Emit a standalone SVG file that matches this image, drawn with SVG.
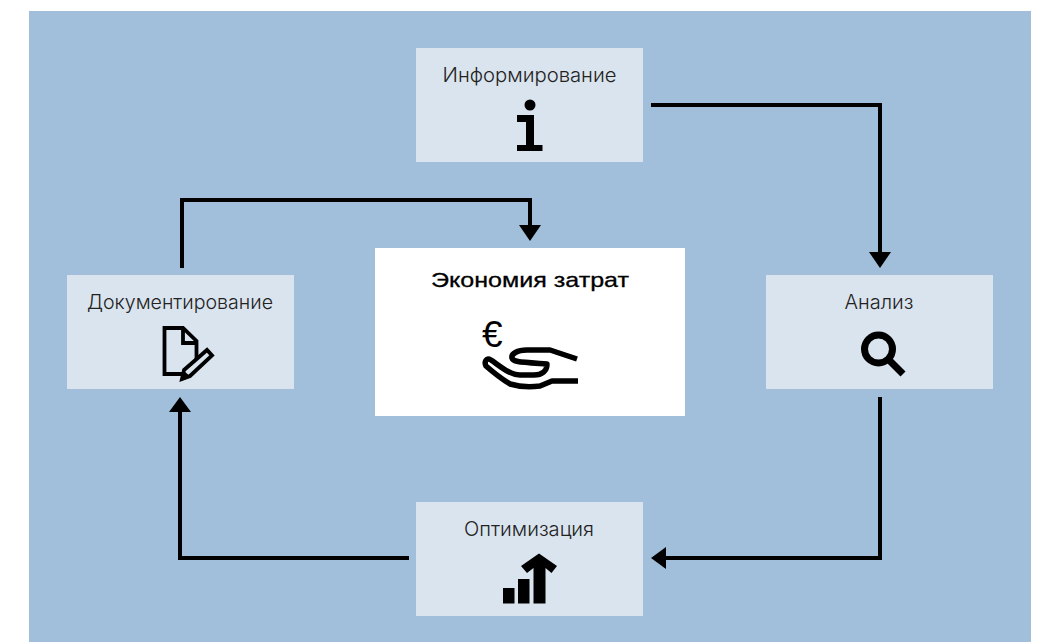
<svg xmlns="http://www.w3.org/2000/svg" width="1045" height="642" viewBox="0 0 1045 642">
<style>
.box{fill:#dae4ee}
.t{font-family:"Inter","Liberation Sans",Arial,sans-serif;font-weight:300;font-size:19.500px;fill:#222;text-anchor:middle}
.c{fill:none;stroke:#000;stroke-width:4}
.a{fill:#000}
.i{fill:none;stroke:#000;stroke-width:3.800}
</style>
<rect width="1045" height="642" fill="#fff"/>
<rect x="29" y="11" width="1002" height="631" fill="#a1bfda"/>
<g id="connectors">
<path class="c" d="M651 105H880V252"/><polygon class="a" points="869,252 891,252 880,268"/>
<path class="c" d="M880 397V558H666"/><polygon class="a" points="666,547 666,569 651,558"/>
<path class="c" d="M409 558H180V412"/><polygon class="a" points="169,412 191,412 180,397"/>
<path class="c" d="M182 268V200H530V225"/><polygon class="a" points="519,225 541,225 530,241"/>
</g>
<g id="informirovanie">
<rect class="box" x="416" y="48" width="227" height="114"/>
<text class="t" x="529.500" y="82" textLength="174" lengthAdjust="spacingAndGlyphs">Информирование</text>
<circle cx="530" cy="105" r="5.500"/>
<path d="M517 115H534V145H542.500V151H517V145H526V122H517Z"/>
</g>
<g id="analiz">
<rect class="box" x="766" y="275" width="227" height="114"/>
<text class="t" x="879" y="309" textLength="69" lengthAdjust="spacingAndGlyphs">Анализ</text>
<circle cx="878.500" cy="349" r="14" fill="none" stroke="#000" stroke-width="7"/>
<path d="M889 360L903 374" fill="none" stroke="#000" stroke-width="7"/>
</g>
<g id="optimizatsiya">
<rect class="box" x="416" y="502" width="227" height="114"/>
<text class="t" x="529" y="536" textLength="130" lengthAdjust="spacingAndGlyphs">Оптимизация</text>
<rect x="503" y="588" width="11.500" height="15.500"/>
<rect x="518" y="579" width="11.500" height="24.500"/>
<path d="M533.500 603.500V568L527 573L521 566L539 553.500L557 566L551.500 573L545.500 568V603.500Z"/>
</g>
<g id="dokumentirovanie">
<rect class="box" x="67" y="275" width="227" height="114"/>
<text class="t" x="180" y="309" textLength="186" lengthAdjust="spacingAndGlyphs">Документирование</text>
<path class="i" d="M182 374H164.500V328H183L196.500 341V359M183 329V343H196"/>
<path class="i" d="M184 370L207 350L212 355.500L190 376L182 379Z"/>
<path d="M181 381L184 371L191 377Z"/>
</g>
<g id="ekonomiya">
<rect x="375" y="248" width="310" height="168" fill="#fff"/>
<text x="530" y="286.500" font-family="'Liberation Sans',Arial,sans-serif" font-size="21" stroke="#000" stroke-width=".3" text-anchor="middle" fill="#000" textLength="198" lengthAdjust="spacingAndGlyphs">Экономия затрат</text>
<text x="482" y="347" font-family="'Liberation Sans',Arial,sans-serif" font-size="37" fill="#000">€</text>
<path d="M577 359L550 350H527C517 350 511 354 512 358C513 362 519 362 547 364C547 371 542 375 534 375H520C510 375 500 366 491 360C486 357 484 362 486 366C494 373 500 378 510 384C520 387 532 387 540 386L552 381H578" fill="none" stroke="#000" stroke-width="5.500" stroke-linejoin="round"/>
</g>
</svg>
